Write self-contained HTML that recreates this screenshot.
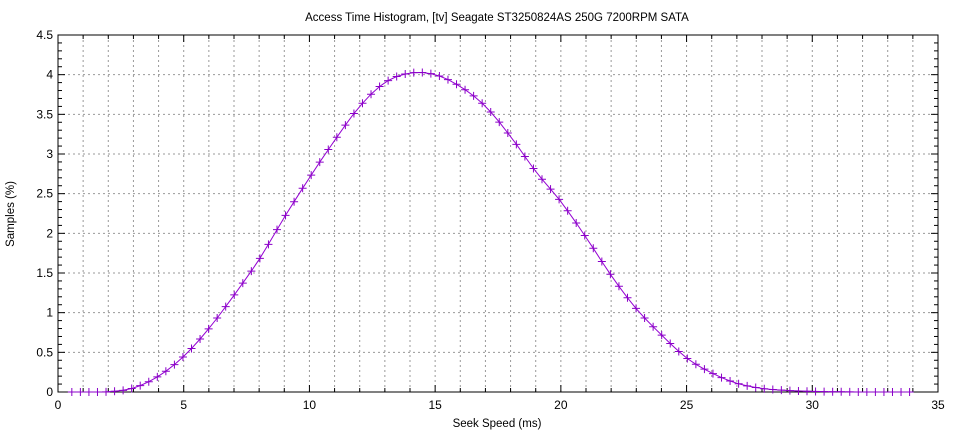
<!DOCTYPE html><html><head><style>body{margin:0;background:#fff}svg{font-family:"Liberation Sans",sans-serif}</style></head><body>
<svg id="s" width="960" height="432" xmlns="http://www.w3.org/2000/svg">
<text x="497" y="21" font-size="11.5" text-anchor="middle">Access Time Histogram, [tv] Seagate ST3250824AS 250G 7200RPM SATA</text>
<text x="497" y="427" font-size="11.5" text-anchor="middle">Seek Speed (ms)</text>
<text transform="translate(14,214) rotate(-90)" font-size="11.5" text-anchor="middle">Samples (%)</text>
<g id="g"></g>
</svg>
<script>
var g=document.getElementById('g'),h='';
var X0=58,X1=938,Y0=392,Y1=35;
function px(x){return X0+x*(X1-X0)/35}function py(y){return Y0-y*(Y0-Y1)/4.5}
for(var i=1;i<35;i++){var x=px(i);h+='<line x1="'+x+'" y1="'+Y1+'" x2="'+x+'" y2="'+Y0+'" stroke="#999" stroke-dasharray="2,3"/>';}
for(var j=1;j<9;j++){var y=py(j*0.5);h+='<line x1="'+X0+'" y1="'+y+'" x2="'+X1+'" y2="'+y+'" stroke="#999" stroke-dasharray="2,3"/>';}
for(var i=0;i<=35;i++){var x=px(i),L=i%5?4:7;h+='<line x1="'+x+'" y1="'+Y0+'" x2="'+x+'" y2="'+(Y0-L)+'" stroke="#000"/><line x1="'+x+'" y1="'+Y1+'" x2="'+x+'" y2="'+(Y1+L)+'" stroke="#000"/>';if(i%5==0)h+='<text x="'+x+'" y="'+(Y0+17)+'" font-size="12" text-anchor="middle">'+i+'</text>';}
for(var j=0;j<=45;j++){var y=py(j/10),L=j%5?4:7;h+='<line x1="'+X0+'" y1="'+y+'" x2="'+(X0+L)+'" y2="'+y+'" stroke="#000"/><line x1="'+X1+'" y1="'+y+'" x2="'+(X1-L)+'" y2="'+y+'" stroke="#000"/>';if(j%5==0)h+='<text x="'+(X0-5)+'" y="'+(y+4)+'" font-size="12" text-anchor="end">'+(j/10)+'</text>';}
h+='<rect x="'+X0+'" y="'+Y1+'" width="'+(X1-X0)+'" height="'+(Y0-Y1)+'" fill="none" stroke="#000"/>';
var T=[[0,0],[1,0],[2,0.003],[3,0.05],[4,0.2],[5,0.45],[6,0.8],[7,1.22],[8,1.67],[9,2.2],[10,2.7],[11,3.17],[12,3.6],[13,3.9],[14,4.02],[15,4.0],[16,3.85],[17,3.6],[18,3.22],[19,2.78],[20,2.4],[21,1.95],[22,1.47],[23,1.05],[24,0.72],[25,0.43],[26,0.24],[27,0.11],[28,0.045],[29,0.02],[30,0.008],[31,0.003],[32,0],[33,0],[34,0],[35,0]];
function f(x){var i=Math.floor(x);var p0=T[Math.max(i-1,0)][1],p1=T[i][1],p2=T[i+1][1],p3=T[Math.min(i+2,35)][1],t=x-i;
return Math.max(0,0.5*((2*p1)+(-p0+p2)*t+(2*p0-5*p1+4*p2-p3)*t*t+(-p0+3*p1-3*p2+p3)*t*t*t));}
var pts=[],mk='';
for(var x=0.55;x<34;x+=0.34){var y=f(x);var a=px(x),b=py(y);pts.push(a.toFixed(1)+','+b.toFixed(1));mk+='M'+(a-4)+','+b+'h8M'+a+','+(b-4)+'v8';}
h+='<polyline points="'+pts.join(' ')+'" fill="none" stroke="#9400d3" stroke-width="1"/>';
h+='<path d="'+mk+'" stroke="#8a00c8" stroke-width="1" fill="none"/>';
g.innerHTML=h;
</script></body></html>
